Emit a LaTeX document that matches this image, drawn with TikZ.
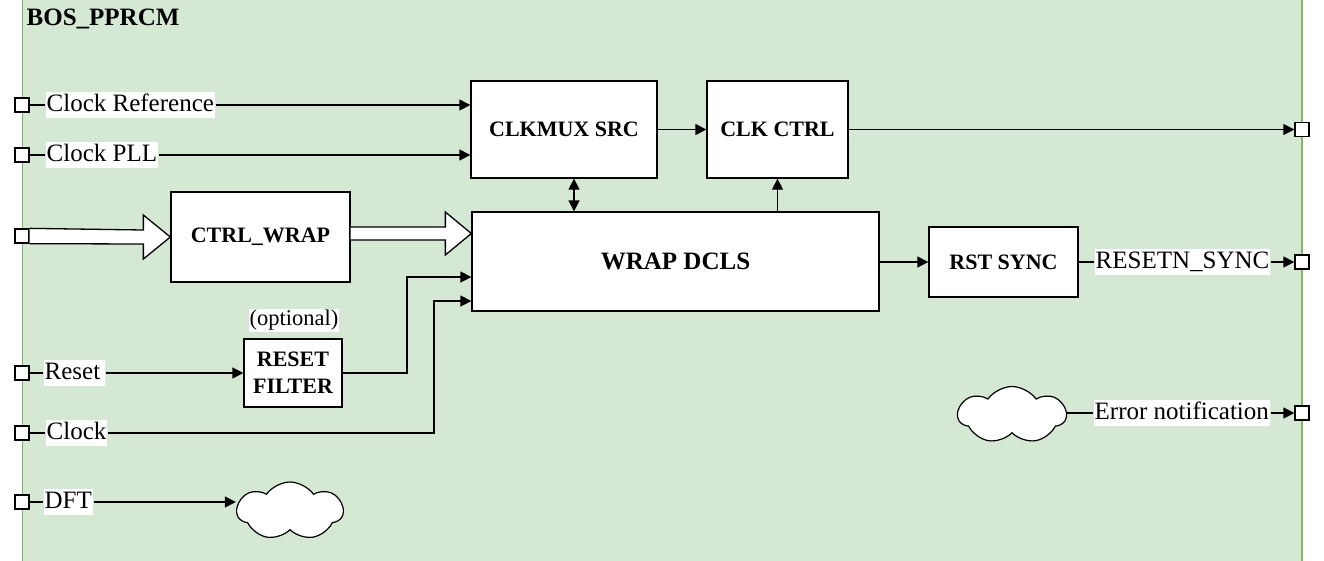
\documentclass[tikz,border=0pt]{standalone}
\usepackage{fontspec}
\setmainfont{Liberation Serif}
\usetikzlibrary{arrows.meta,shapes.symbols,calc}
\definecolor{bggreen}{HTML}{D5E8D4}
\definecolor{bgborder}{HTML}{82B366}
\begin{document}
\begin{tikzpicture}[x=1pt,y=-1pt,
  line width=1.3pt,
  blk/.style={draw=black, fill=white, line width=1.3pt, font=\bfseries\fontsize{22}{27}\selectfont, align=center, inner sep=0pt},
  lbl/.style={fill=white, inner sep=1pt, font=\fontsize{25}{25}\selectfont, text height=18pt, text depth=6pt, anchor=west},
  port/.style={draw=black, fill=white, line width=1.3pt, minimum size=14pt, inner sep=0pt},
  arr/.style={-{Triangle[length=11pt,width=11pt]}},
  barr/.style={{Triangle[length=11pt,width=11pt]}-{Triangle[length=11pt,width=11pt]}},
  cloudy/.style={cloud, cloud puffs=7, cloud puff arc=110, aspect=2, draw=black, fill=white, line width=1.2pt, inner sep=0pt}
]
\useasboundingbox (0,0) rectangle (1324,560);
\clip (0,0) rectangle (1324,560);
\draw[fill=bggreen, draw=bgborder, line width=1.2pt] (22.5,-5) rectangle (1302,565);

\node[anchor=base west, inner sep=0pt, font=\bfseries\fontsize{25}{25}\selectfont] (title) at (26,25) {BOS\_PPRCM};

% blocks
\node[blk, minimum width=186pt, minimum height=97pt] (clkmux) at (564,129.5) {CLKMUX SRC};
\node[blk, minimum width=141pt, minimum height=97pt] (clkctrl) at (777.5,129.5) {CLK CTRL};
\node[blk, minimum width=407pt, minimum height=99pt, font=\bfseries\fontsize{25}{27}\selectfont] (wrap) at (675.5,261.5) {WRAP DCLS};
\node[blk, minimum width=179pt, minimum height=90pt] (ctrlwrap) at (260.5,237) {CTRL\_WRAP};
\node[blk, minimum width=98pt, minimum height=68pt] (resetf) at (293,373) {RESET\\FILTER};
\node[blk, minimum width=149pt, minimum height=70pt] (rstsync) at (1003.5,262) {RST SYNC};
\node[lbl, anchor=center, font=\fontsize{22.5}{22.5}\selectfont, text height=16pt, text depth=5pt] (opt) at (294,320) {(optional)};

% clouds
\node[cloudy, minimum width=106pt, minimum height=58pt] (cdft) at (290,511) {};
\node[cloudy, minimum width=108pt, minimum height=57pt] (cerr) at (1012,415) {};

% ports
\node[port] (pref) at (22,105) {};
\node[port] (ppll) at (22,155) {};
\node[port] (prst) at (22,373) {};
\node[port] (pclk) at (22,433) {};
\node[port] (pdft) at (22,502) {};
\node[port] (pout) at (1302,129.5) {};
\node[port] (prsn) at (1302,262) {};
\node[port] (perr) at (1302,413) {};

% labels
\node[lbl] (lref) at (45,105) {Clock Reference};
\node[lbl] (lpll) at (45,155) {Clock PLL};
\node[lbl] (lrst) at (43,373) {Reset\,};
\node[lbl] (lclk) at (45,433) {Clock};
\node[lbl] (ldft) at (43,502) {DFT};
\node[lbl] (lrsn) at (1094,262) {RESETN\_SYNC};
\node[lbl] (lerr) at (1093,413) {Error notification};

% connectors
\draw (pref.east) -- (lref.west);
\draw[arr] (lref.east) -- (lref.east -| clkmux.west);
\draw (ppll.east) -- (lpll.west);
\draw[arr] (lpll.east) -- (lpll.east -| clkmux.west);
\draw[arr] (clkmux.east) -- (clkctrl.west);
\draw[arr] (clkctrl.east) -- (clkctrl.east -| pout.west);
\coordinate (bx) at (574,0);
\draw[barr] (clkmux.south -| bx) -- (wrap.north -| bx);
\draw[arr] (wrap.north -| clkctrl.south) -- (clkctrl.south);
\draw[arr] (wrap.east |- rstsync.west) -- (rstsync.west);
\draw (rstsync.east) -- (lrsn.west);
\draw[arr] (lrsn.east) -- (prsn.west);
\draw (prst.east) -- (lrst.west);
\draw[arr] (lrst.east) -- (resetf.west);
\coordinate (jr) at (407,277);
\draw[arr] (resetf.east) -| (jr) -- (jr -| wrap.west);
\coordinate (jc) at (434,301);
\draw (pclk.east) -- (lclk.west);
\draw[arr] (lclk.east) -| (jc) -- (jc -| wrap.west);
\draw (pdft.east) -- (ldft.west);
\draw[arr] (ldft.east) -- (ldft.east -| cdft.west);
\draw (lerr.west -| cerr.east) -- (lerr.west);
\draw[arr] (lerr.east) -- (perr.west);

% hollow bus arrows
\node[port] (pctl) at (22,236) {};
\filldraw[fill=white] (pctl.north east) -- ($(ctrlwrap.west)+(-27,-7)$) -- ($(ctrlwrap.west)+(-27,-22)$) -- (ctrlwrap.west) -- ($(ctrlwrap.west)+(-27,22)$) -- ($(ctrlwrap.west)+(-27,7)$) -- (pctl.south east);
\coordinate (t2) at ($(wrap.west)+(0,-28)$);
\filldraw[fill=white] ($(t2 -| ctrlwrap.east)+(0,-6.5)$) -- ($(t2)+(-26,-6.5)$) -- ($(t2)+(-26,-21.5)$) -- (t2) -- ($(t2)+(-26,21.5)$) -- ($(t2)+(-26,6.5)$) -- ($(t2 -| ctrlwrap.east)+(0,6.5)$);
\end{tikzpicture}
\end{document}
